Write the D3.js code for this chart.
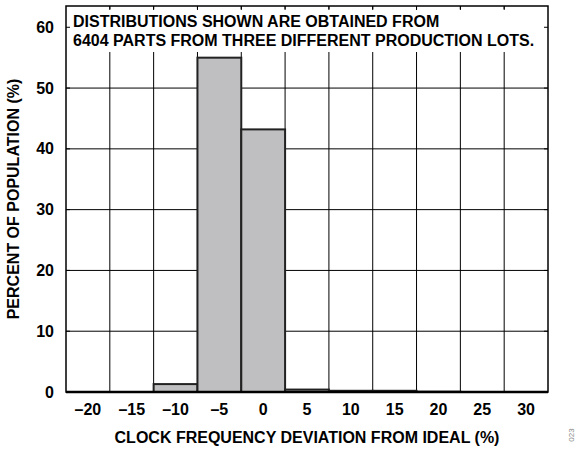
<!DOCTYPE html>
<html><head><meta charset="utf-8">
<script src="https://cdn.jsdelivr.net/npm/d3@7"></script>
<style>body{margin:0;background:#fff}svg{display:block}text{font-family:"Liberation Sans",Arial,sans-serif;font-weight:bold;fill:#000}</style>
</head><body>
<svg id="c" width="575" height="451"></svg>
<script>
const binCenters = [-20, -15, -10, -5, 0, 5, 10, 15, 20, 25, 30];
const percents   = [0, 0, 1.3, 55.0, 43.2, 0.4, 0.2, 0.2, 0.05, 0, 0];
const yTicks = [0, 10, 20, 30, 40, 50, 60];
const noteLines = ["DISTRIBUTIONS SHOWN ARE OBTAINED FROM", "6404 PARTS FROM THREE DIFFERENT PRODUCTION LOTS."];
const xTitle = "CLOCK FREQUENCY DEVIATION FROM IDEAL (%)";
const yTitle = "PERCENT OF POPULATION (%)";

const svg = d3.select("#c");
const L = 66, R = 548, T = 6, B = 392;
const x = d3.scaleLinear().domain([-22.5, 32.5]).range([L, R]);
const y = d3.scaleLinear().domain([0, 63.5]).range([B, T]);

// grid
const g = svg.append("g");
g.selectAll(".hg").data(yTicks.filter(d => d > 0 && d < 60)).join("line")
  .attr("x1", L).attr("x2", R).attr("y1", d => y(d)).attr("y2", d => y(d))
  .attr("stroke", "#000").attr("stroke-width", 1);
const bounds = d3.range(1, binCenters.length).map(i => binCenters[i] - 2.5);
g.selectAll(".vg").data(bounds).join("line")
  .attr("x1", d => x(d)).attr("x2", d => x(d)).attr("y1", T).attr("y2", B)
  .attr("stroke", "#000").attr("stroke-width", 1);

// bars
svg.selectAll(".bar").data(binCenters.map((c, i) => ({c, v: percents[i]})).filter(d => d.v > 0))
  .join("rect")
  .attr("x", d => x(d.c - 2.5)).attr("width", d => x(d.c + 2.5) - x(d.c - 2.5))
  .attr("y", d => y(d.v)).attr("height", d => B - y(d.v))
  .attr("fill", "#bfbfc1").attr("stroke", "#222").attr("stroke-width", 2);

// note box
svg.append("rect").attr("x", 69).attr("y", 9).attr("width", 476).attr("height", 43).attr("fill", "#fff");
svg.selectAll(".note").data(noteLines).join("text")
  .attr("x", 73).attr("y", (d, i) => 27 + i * 19)
  .attr("font-size", 16).text(d => d);

// small edge ticks
svg.selectAll(".yt").data(yTicks).join("line")
  .attr("x1", L).attr("x2", L + 4).attr("y1", d => y(d)).attr("y2", d => y(d)).attr("stroke", "#000");
svg.selectAll(".yt2").data(yTicks).join("line")
  .attr("x1", R - 4).attr("x2", R).attr("y1", d => y(d)).attr("y2", d => y(d)).attr("stroke", "#000");
svg.selectAll(".xt").data(bounds).join("line")
  .attr("x1", d => x(d)).attr("x2", d => x(d)).attr("y1", T).attr("y2", T + 4).attr("stroke", "#000");

// frame
svg.append("rect").attr("x", L).attr("y", T).attr("width", R - L).attr("height", B - T)
  .attr("fill", "none").attr("stroke", "#000").attr("stroke-width", 1.5);
svg.append("line").attr("x1", L).attr("x2", R).attr("y1", B).attr("y2", B)
  .attr("stroke", "#000").attr("stroke-width", 2.5);

// axis labels
svg.selectAll(".yl").data(yTicks).join("text")
  .attr("x", 54).attr("y", d => y(d) + 5.5).attr("text-anchor", "end")
  .attr("font-size", 16).text(d => d);
svg.selectAll(".xl").data(binCenters).join("text")
  .attr("x", d => x(d)).attr("y", 415).attr("text-anchor", "middle")
  .attr("font-size", 16).text(d => d < 0 ? "\u2013" + Math.abs(d) : d);

svg.append("text").attr("x", (L + R) / 2).attr("y", 443).attr("text-anchor", "middle")
  .attr("font-size", 16).text(xTitle);
svg.append("text").attr("transform", `translate(18.5,${(T + B) / 2}) rotate(-90)`)
  .attr("text-anchor", "middle").attr("font-size", 16).text(yTitle);
svg.append("text").attr("transform", "translate(574,435) rotate(-90)")
  .attr("text-anchor", "middle").attr("font-size", 8).style("font-weight", "normal")
  .style("fill", "#888").text("023");
</script>
</body></html>
